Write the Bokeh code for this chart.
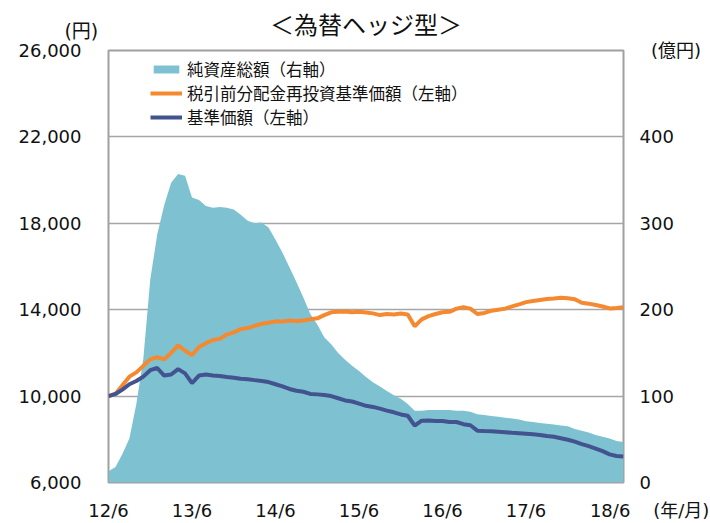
from bokeh.plotting import figure
from bokeh.models import (Range1d, LinearAxis, FixedTicker, NumeralTickFormatter,
                          Legend, LegendItem, ColumnDataSource)
from bokeh.embed import file_html
from bokeh.resources import INLINE

# ---------------- data (monthly, from 2012/6 to 2018/8) ----------------
tick_labels = ["12/6", "13/6", "14/6", "15/6", "16/6", "17/6", "18/6"]
x_unit = "(年/月)"
left_unit = "(円)"
right_unit = "(億円)"
title = "＜為替ヘッジ型＞"
months = list(range(75))  # months elapsed since 2012/6

# 純資産総額（億円, right axis）
net_assets = [13, 18, 33, 51, 91, 143, 235, 287, 321, 347,
              357, 355, 330, 327, 320, 318, 319, 318, 316, 310,
              303, 300, 301, 295, 281, 266, 249, 232, 214, 195,
              183, 168, 160, 150, 142, 135, 129, 122, 116, 111,
              106, 101, 97, 91, 83, 83, 84, 84, 84, 84,
              83, 83, 82, 79, 78, 77, 76, 75, 74, 73,
              71, 70, 69, 68, 67, 66, 65, 62, 60, 58,
              55, 53, 51, 48, 47]

# 税引前分配金再投資基準価額（円, left axis）
reinvested = [10000, 10100, 10500, 10900, 11100, 11400, 11700, 11800, 11700, 12000,
              12350, 12100, 11900, 12270, 12450, 12600, 12650, 12850, 12950, 13100,
              13150, 13250, 13350, 13400, 13460, 13450, 13500, 13480, 13500, 13560,
              13600, 13750, 13880, 13900, 13920, 13880, 13900, 13870, 13830, 13750,
              13800, 13780, 13820, 13780, 13230, 13550, 13700, 13800, 13880, 13900,
              14050, 14110, 14050, 13800, 13850, 13950, 14000, 14050, 14150, 14250,
              14350, 14400, 14450, 14500, 14520, 14550, 14530, 14480, 14320, 14280,
              14220, 14150, 14060, 14080, 14110]

# 基準価額（円, left axis）
nav = [10000, 10100, 10300, 10550, 10700, 10900, 11200, 11300, 10950, 11000,
       11250, 11050, 10600, 10950, 11000, 10950, 10930, 10880, 10850, 10800,
       10780, 10740, 10700, 10650, 10550, 10450, 10330, 10250, 10200, 10100,
       10080, 10050, 10000, 9900, 9800, 9750, 9650, 9550, 9500, 9420,
       9330, 9250, 9150, 9090, 8630, 8860, 8870, 8850, 8850, 8800,
       8800, 8700, 8650, 8400, 8380, 8370, 8350, 8330, 8300, 8280,
       8260, 8230, 8200, 8150, 8120, 8050, 7980, 7890, 7780, 7680,
       7570, 7450, 7300, 7230, 7200]

left_ticks = [6000, 10000, 14000, 18000, 22000, 26000]
right_ticks = [0, 100, 200, 300, 400, 500]

# ---------------- styles ----------------
NUM_FONT = "DejaVu Sans, Noto Sans CJK JP"
JP_FONT = "Noto Sans CJK JP"
TEAL = "#7EC2D2"
ORANGE = "#F5892F"
NAVY = "#43538F"
GRID = "#a6a6a6"
TXT = "#111111"
NB = "\u00a0"

src = ColumnDataSource(dict(m=months, assets=net_assets, re=reinvested, nav=nav))

p = figure(width=710, height=523, output_backend="svg", toolbar_location=None,
           x_range=Range1d(0, 74), y_range=Range1d(6000, 26000),
           min_border_left=108, min_border_right=87, min_border_top=50,
           min_border_bottom=39, background_fill_color="white",
           border_fill_color="white")
p.extra_y_ranges = {"right": Range1d(0, 500)}
p.extra_x_ranges = {"top": Range1d(0, 74)}

p.outline_line_color = "#a0a0a0"
p.outline_line_width = 2

bottom_axis = p.xaxis[0]
left_axis = p.yaxis[0]

# bottom axis (the last label also carries the unit, as in the original)
xt = [12 * i for i in range(len(tick_labels))]
xlabels = list(tick_labels)
xlabels[-1] = NB * 14 + tick_labels[-1] + NB * 4 + x_unit
bottom_axis.ticker = FixedTicker(ticks=xt)
bottom_axis.major_label_overrides = {t: lab for t, lab in zip(xt, xlabels)}
bottom_axis.major_label_standoff = 17

# left axis
left_axis.ticker = FixedTicker(ticks=left_ticks)
left_axis.formatter = NumeralTickFormatter(format="0,0")
left_axis.major_label_standoff = 27

# right axis (top tick shows the unit)
raxis = LinearAxis(y_range_name="right", ticker=FixedTicker(ticks=right_ticks))
raxis.major_label_overrides = {right_ticks[-1]: NB * 2 + right_unit}
raxis.major_label_standoff = 16
p.add_layout(raxis, "right")

# top axis: carries the left unit and the chart title
taxis = LinearAxis(x_range_name="top", ticker=FixedTicker(ticks=[0]))
taxis.major_label_overrides = {0: left_unit + NB * 9}
taxis.major_label_standoff = 9
taxis.axis_label = title
taxis.axis_label_text_font = JP_FONT
taxis.axis_label_text_font_size = "24px"
taxis.axis_label_text_font_style = "normal"
taxis.axis_label_text_color = TXT
taxis.axis_label_standoff = -24
p.add_layout(taxis, "above")

for ax in [bottom_axis, left_axis, raxis, taxis]:
    ax.axis_line_color = None
    ax.major_tick_line_color = None
    ax.minor_tick_line_color = None
    ax.major_tick_in = 0
    ax.major_tick_out = 0
    ax.minor_tick_in = 0
    ax.minor_tick_out = 0
    ax.major_label_text_font = NUM_FONT
    ax.major_label_text_font_size = "18px"
    ax.major_label_text_color = TXT
taxis.major_label_text_font_size = "19px"

p.xgrid.visible = False
p.ygrid.ticker = FixedTicker(ticks=[10000, 14000, 18000, 22000])
p.ygrid.grid_line_color = GRID
p.ygrid.grid_line_width = 1.5

# glyphs
area = p.varea(x="m", y1=0, y2="assets", source=src, fill_color=TEAL,
               y_range_name="right")
l_re = p.line(x="m", y="re", source=src, line_color=ORANGE, line_width=4)
l_nav = p.line(x="m", y="nav", source=src, line_color=NAVY, line_width=4)

legend = Legend(items=[
    LegendItem(label="純資産総額（右軸）", renderers=[area]),
    LegendItem(label="税引前分配金再投資基準価額（左軸）", renderers=[l_re]),
    LegendItem(label="基準価額（左軸）", renderers=[l_nav]),
], location=(42, 353))
legend.label_text_font = JP_FONT
legend.label_text_font_size = "16.5px"
legend.label_text_color = TXT
legend.label_text_line_height = 1.0
legend.glyph_width = 32
legend.glyph_height = 10
legend.label_standoff = 5
legend.label_height = 18
legend.spacing = -1
legend.padding = 0
legend.margin = 0
legend.border_line_color = None
legend.background_fill_alpha = 0
p.add_layout(legend, "center")

open("out.html", "w").write(file_html(p, INLINE))
